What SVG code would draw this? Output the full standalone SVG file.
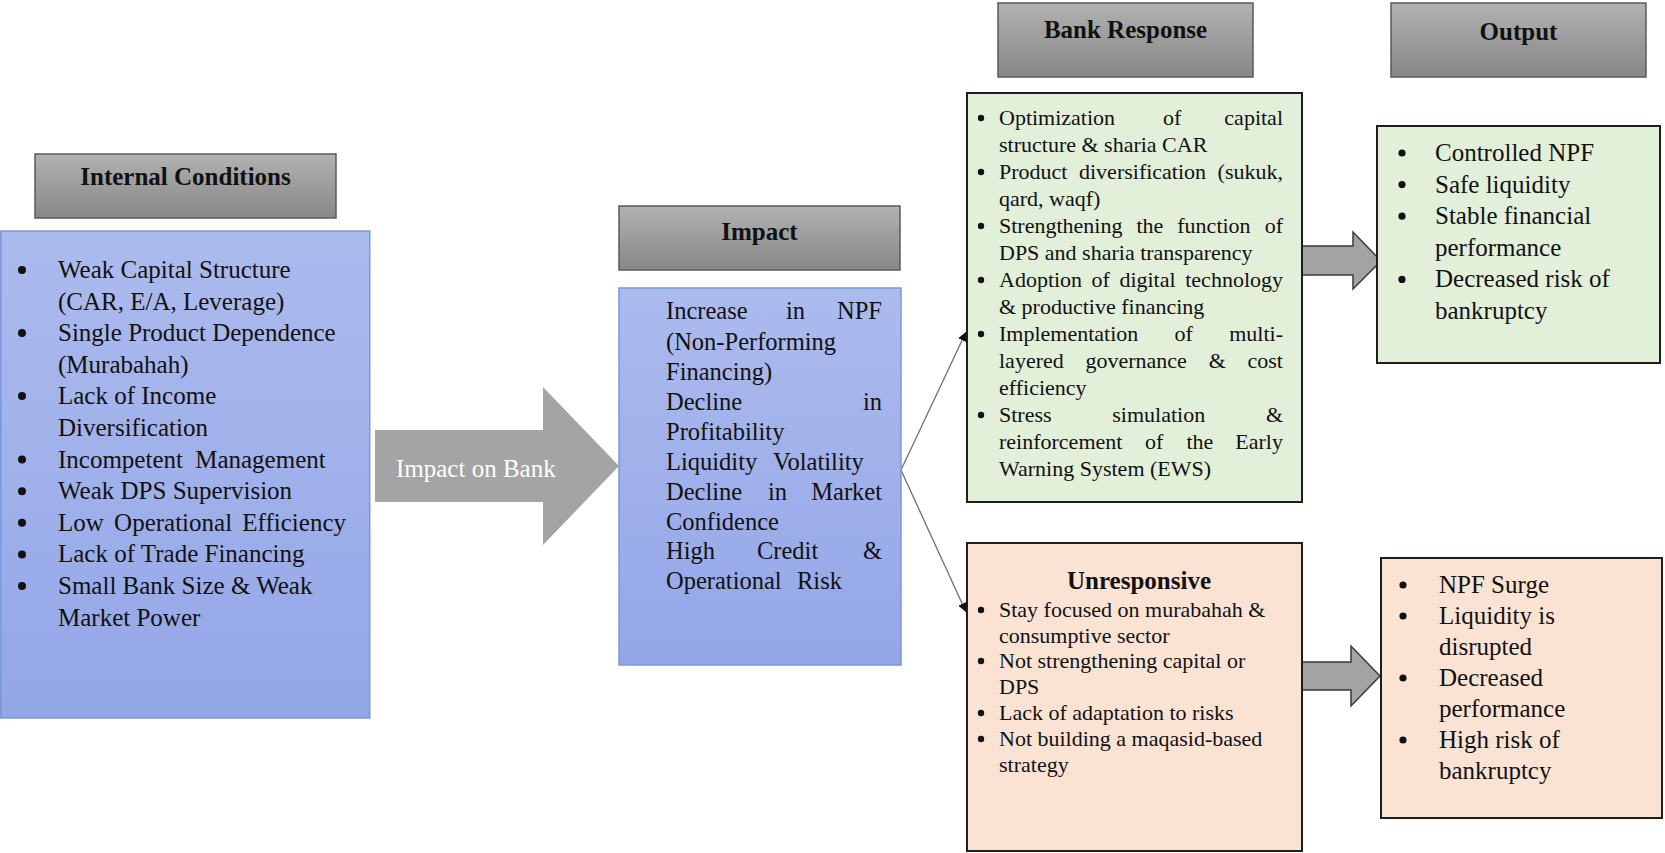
<svg xmlns="http://www.w3.org/2000/svg" width="1665" height="853" viewBox="0 0 1665 853">
<style>
  text { font-family: "Liberation Serif", "Times New Roman", serif; fill: #111; }
  .hd { font-size: 25px; font-weight: bold; text-anchor: middle; }
  .t25 { font-size: 25px; }
  .t245 { font-size: 24.5px; }
  .t22 { font-size: 22px; }
  .end { text-anchor: end; }
  .hdbox { fill: url(#grayGrad); stroke: #5a5a5a; stroke-width: 1.5; }
  .bluebox { fill: url(#blueGrad); stroke: #7d97d9; stroke-width: 1.5; }
  .greenbox { fill: #e2efd9; stroke: #1e1e1e; stroke-width: 2; }
  .pinkbox { fill: #fbe3d4; stroke: #1e1e1e; stroke-width: 2; }
  .blk { fill: #a3a3a3; stroke: #3a3a3a; stroke-width: 1.5; }
  .bul { fill: #111; }
  .conn { stroke: #707070; stroke-width: 1.3; fill: none; }
</style>
<defs>
  <linearGradient id="grayGrad" x1="0" y1="0" x2="0" y2="1">
    <stop offset="0" stop-color="#b2b2b2"/>
    <stop offset="0.5" stop-color="#9c9c9c"/>
    <stop offset="1" stop-color="#878787"/>
  </linearGradient>
  <linearGradient id="blueGrad" x1="0" y1="0" x2="0" y2="1">
    <stop offset="0" stop-color="#acbbee"/>
    <stop offset="1" stop-color="#93a6e7"/>
  </linearGradient>
  <marker id="ah" viewBox="0 0 10 10" refX="10" refY="5" markerWidth="9" markerHeight="9" markerUnits="userSpaceOnUse" orient="auto">
    <path d="M0,0 L10,5 L0,10 Z" fill="#111"/>
  </marker>
</defs>
<rect width="1665" height="853" fill="#ffffff"/>

<g id="connectors">
  <line class="conn" x1="901" y1="470" x2="966" y2="332" marker-end="url(#ah)"/>
  <line class="conn" x1="901" y1="470" x2="966" y2="612" marker-end="url(#ah)"/>
  <polygon id="arrow-impact-on-bank" points="375,430 543,430 543,387 619,466 543,545 543,502 375,502" fill="#a4a4a4"/>
  <text x="396" y="477" style="font-size:25px; fill:#ffffff">Impact on Bank</text>
  <polygon id="arrow-response-output" class="blk" points="1302,246 1353,246 1353,232 1381,261 1353,289 1353,275 1302,275"/>
  <polygon id="arrow-unresponsive-output" class="blk" points="1302,662 1351,662 1351,646 1380,676 1351,706 1351,690 1302,690"/>
</g>

<g id="hdr-internal">
  <rect class="hdbox" x="35" y="154" width="301" height="64"/>
  <text class="hd" x="185.5" y="185">Internal Conditions</text>
</g>

<g id="node-internal">
  <rect class="bluebox" x="0.75" y="231" width="369" height="487"/>
  <g class="bul">
    <circle cx="22" cy="270" r="4"/>
    <circle cx="22" cy="333" r="4"/>
    <circle cx="22" cy="396" r="4"/>
    <circle cx="22" cy="459.6" r="4"/>
    <circle cx="22" cy="491.2" r="4"/>
    <circle cx="22" cy="522.8" r="4"/>
    <circle cx="22" cy="554.4" r="4"/>
    <circle cx="22" cy="586" r="4"/>
  </g>
  <text class="t25" x="58" y="278">Weak Capital Structure</text>
  <text class="t25" x="58" y="309.6">(CAR, E/A, Leverage)</text>
  <text class="t25" x="58" y="341.2">Single Product Dependence</text>
  <text class="t25" x="58" y="372.8">(Murabahah)</text>
  <text class="t25" x="58" y="404.4">Lack of Income</text>
  <text class="t25" x="58" y="436">Diversification</text>
  <text class="t25" x="58" y="467.6" word-spacing="6">Incompetent Management</text>
  <text class="t25" x="58" y="499.2">Weak DPS Supervision</text>
  <text class="t25" x="58" y="530.8" word-spacing="4">Low Operational Efficiency</text>
  <text class="t25" x="58" y="562.4">Lack of Trade Financing</text>
  <text class="t25" x="58" y="594">Small Bank Size &amp; Weak</text>
  <text class="t25" x="58" y="625.6">Market Power</text>
</g>

<g id="hdr-impact">
  <rect class="hdbox" x="619" y="206" width="281" height="64"/>
  <text class="hd" x="759.5" y="240">Impact</text>
</g>

<g id="node-impact">
  <rect class="bluebox" x="619" y="288" width="282" height="377"/>
  <text class="t245" y="319"><tspan x="666">Increase</tspan><tspan x="786">in</tspan></text>
  <text class="t245 end" x="882" y="319">NPF</text>
  <text class="t245" x="666" y="349.5">(Non-Performing</text>
  <text class="t245" x="666" y="379.5">Financing)</text>
  <text class="t245" x="666" y="409.5">Decline</text>
  <text class="t245 end" x="882" y="409.5">in</text>
  <text class="t245" x="666" y="439.5">Profitability</text>
  <text class="t245" y="469.5"><tspan x="666">Liquidity</tspan><tspan x="773">Volatility</tspan></text>
  <text class="t245" y="499.5"><tspan x="666">Decline</tspan><tspan x="768">in</tspan></text>
  <text class="t245 end" x="882" y="499.5">Market</text>
  <text class="t245" x="666" y="529.5">Confidence</text>
  <text class="t245" y="559"><tspan x="666">High</tspan><tspan x="757">Credit</tspan></text>
  <text class="t245 end" x="882" y="559">&amp;</text>
  <text class="t245" y="589"><tspan x="666">Operational</tspan><tspan x="797">Risk</tspan></text>
</g>

<g id="hdr-bank-response">
  <rect class="hdbox" x="998" y="3" width="255" height="74"/>
  <text class="hd" x="1125.5" y="38">Bank Response</text>
</g>

<g id="node-response">
  <rect class="greenbox" x="967" y="93" width="335" height="409"/>
  <g class="bul">
    <circle cx="981" cy="118" r="3.2"/>
    <circle cx="981" cy="172" r="3.2"/>
    <circle cx="981" cy="226" r="3.2"/>
    <circle cx="981" cy="280" r="3.2"/>
    <circle cx="981" cy="334" r="3.2"/>
    <circle cx="981" cy="415" r="3.2"/>
  </g>
  <text class="t22" y="125"><tspan x="999">Optimization</tspan><tspan x="1163">of</tspan></text>
  <text class="t22 end" x="1283" y="125">capital</text>
  <text class="t22" x="999" y="152">structure &amp; sharia CAR</text>
  <text class="t22" y="179"><tspan x="999">Product</tspan><tspan x="1079">diversification</tspan></text>
  <text class="t22 end" x="1283" y="179">(sukuk,</text>
  <text class="t22" x="999" y="206">qard, waqf)</text>
  <text class="t22" y="233"><tspan x="999">Strengthening</tspan><tspan x="1136.4">the</tspan><tspan x="1177.3">function</tspan></text>
  <text class="t22 end" x="1283" y="233">of</text>
  <text class="t22" x="999" y="260">DPS and sharia transparency</text>
  <text class="t22" y="287"><tspan x="999">Adoption</tspan><tspan x="1091.6">of</tspan><tspan x="1119.4">digital</tspan></text>
  <text class="t22 end" x="1283" y="287">technology</text>
  <text class="t22" x="999" y="314">&amp; productive financing</text>
  <text class="t22" y="341"><tspan x="999">Implementation</tspan><tspan x="1174.6">of</tspan></text>
  <text class="t22 end" x="1283" y="341">multi-</text>
  <text class="t22" y="368"><tspan x="999">layered</tspan><tspan x="1085.5">governance</tspan><tspan x="1208.7">&amp;</tspan></text>
  <text class="t22 end" x="1283" y="368">cost</text>
  <text class="t22" x="999" y="395">efficiency</text>
  <text class="t22" y="422"><tspan x="999">Stress</tspan><tspan x="1112.3">simulation</tspan></text>
  <text class="t22 end" x="1283" y="422">&amp;</text>
  <text class="t22" y="449"><tspan x="999">reinforcement</tspan><tspan x="1145">of</tspan><tspan x="1186.4">the</tspan></text>
  <text class="t22 end" x="1283" y="449">Early</text>
  <text class="t22" x="999" y="476">Warning System (EWS)</text>
</g>

<g id="node-unresponsive">
  <rect class="pinkbox" x="967" y="543" width="335" height="308"/>
  <text class="hd" x="1139" y="589">Unresponsive</text>
  <g class="bul">
    <circle cx="981" cy="610" r="3.2"/>
    <circle cx="981" cy="661" r="3.2"/>
    <circle cx="981" cy="713" r="3.2"/>
    <circle cx="981" cy="739" r="3.2"/>
  </g>
  <text class="t22" x="999" y="617">Stay focused on murabahah &amp;</text>
  <text class="t22" x="999" y="643">consumptive sector</text>
  <text class="t22" x="999" y="668">Not strengthening capital or</text>
  <text class="t22" x="999" y="694">DPS</text>
  <text class="t22" x="999" y="720">Lack of adaptation to risks</text>
  <text class="t22" x="999" y="746">Not building a maqasid-based</text>
  <text class="t22" x="999" y="772">strategy</text>
</g>

<g id="hdr-output">
  <rect class="hdbox" x="1391" y="3" width="255" height="74"/>
  <text class="hd" x="1518.5" y="40">Output</text>
</g>

<g id="node-output-positive">
  <rect class="greenbox" x="1377" y="126" width="283" height="237"/>
  <g class="bul">
    <circle cx="1402" cy="153" r="3.6"/>
    <circle cx="1402" cy="184.6" r="3.6"/>
    <circle cx="1402" cy="216.2" r="3.6"/>
    <circle cx="1402" cy="279.4" r="3.6"/>
  </g>
  <text class="t25" x="1435" y="161">Controlled NPF</text>
  <text class="t25" x="1435" y="192.6">Safe liquidity</text>
  <text class="t25" x="1435" y="224.2">Stable financial</text>
  <text class="t25" x="1435" y="255.8">performance</text>
  <text class="t25" x="1435" y="287.4">Decreased risk of</text>
  <text class="t25" x="1435" y="319">bankruptcy</text>
</g>

<g id="node-output-negative">
  <rect class="pinkbox" x="1381" y="558" width="281" height="260"/>
  <g class="bul">
    <circle cx="1403" cy="585" r="3.6"/>
    <circle cx="1403" cy="616" r="3.6"/>
    <circle cx="1403" cy="678" r="3.6"/>
    <circle cx="1403" cy="740" r="3.6"/>
  </g>
  <text class="t25" x="1439" y="593">NPF Surge</text>
  <text class="t25" x="1439" y="624">Liquidity is</text>
  <text class="t25" x="1439" y="655">disrupted</text>
  <text class="t25" x="1439" y="686">Decreased</text>
  <text class="t25" x="1439" y="717">performance</text>
  <text class="t25" x="1439" y="748">High risk of</text>
  <text class="t25" x="1439" y="779">bankruptcy</text>
</g>
</svg>
